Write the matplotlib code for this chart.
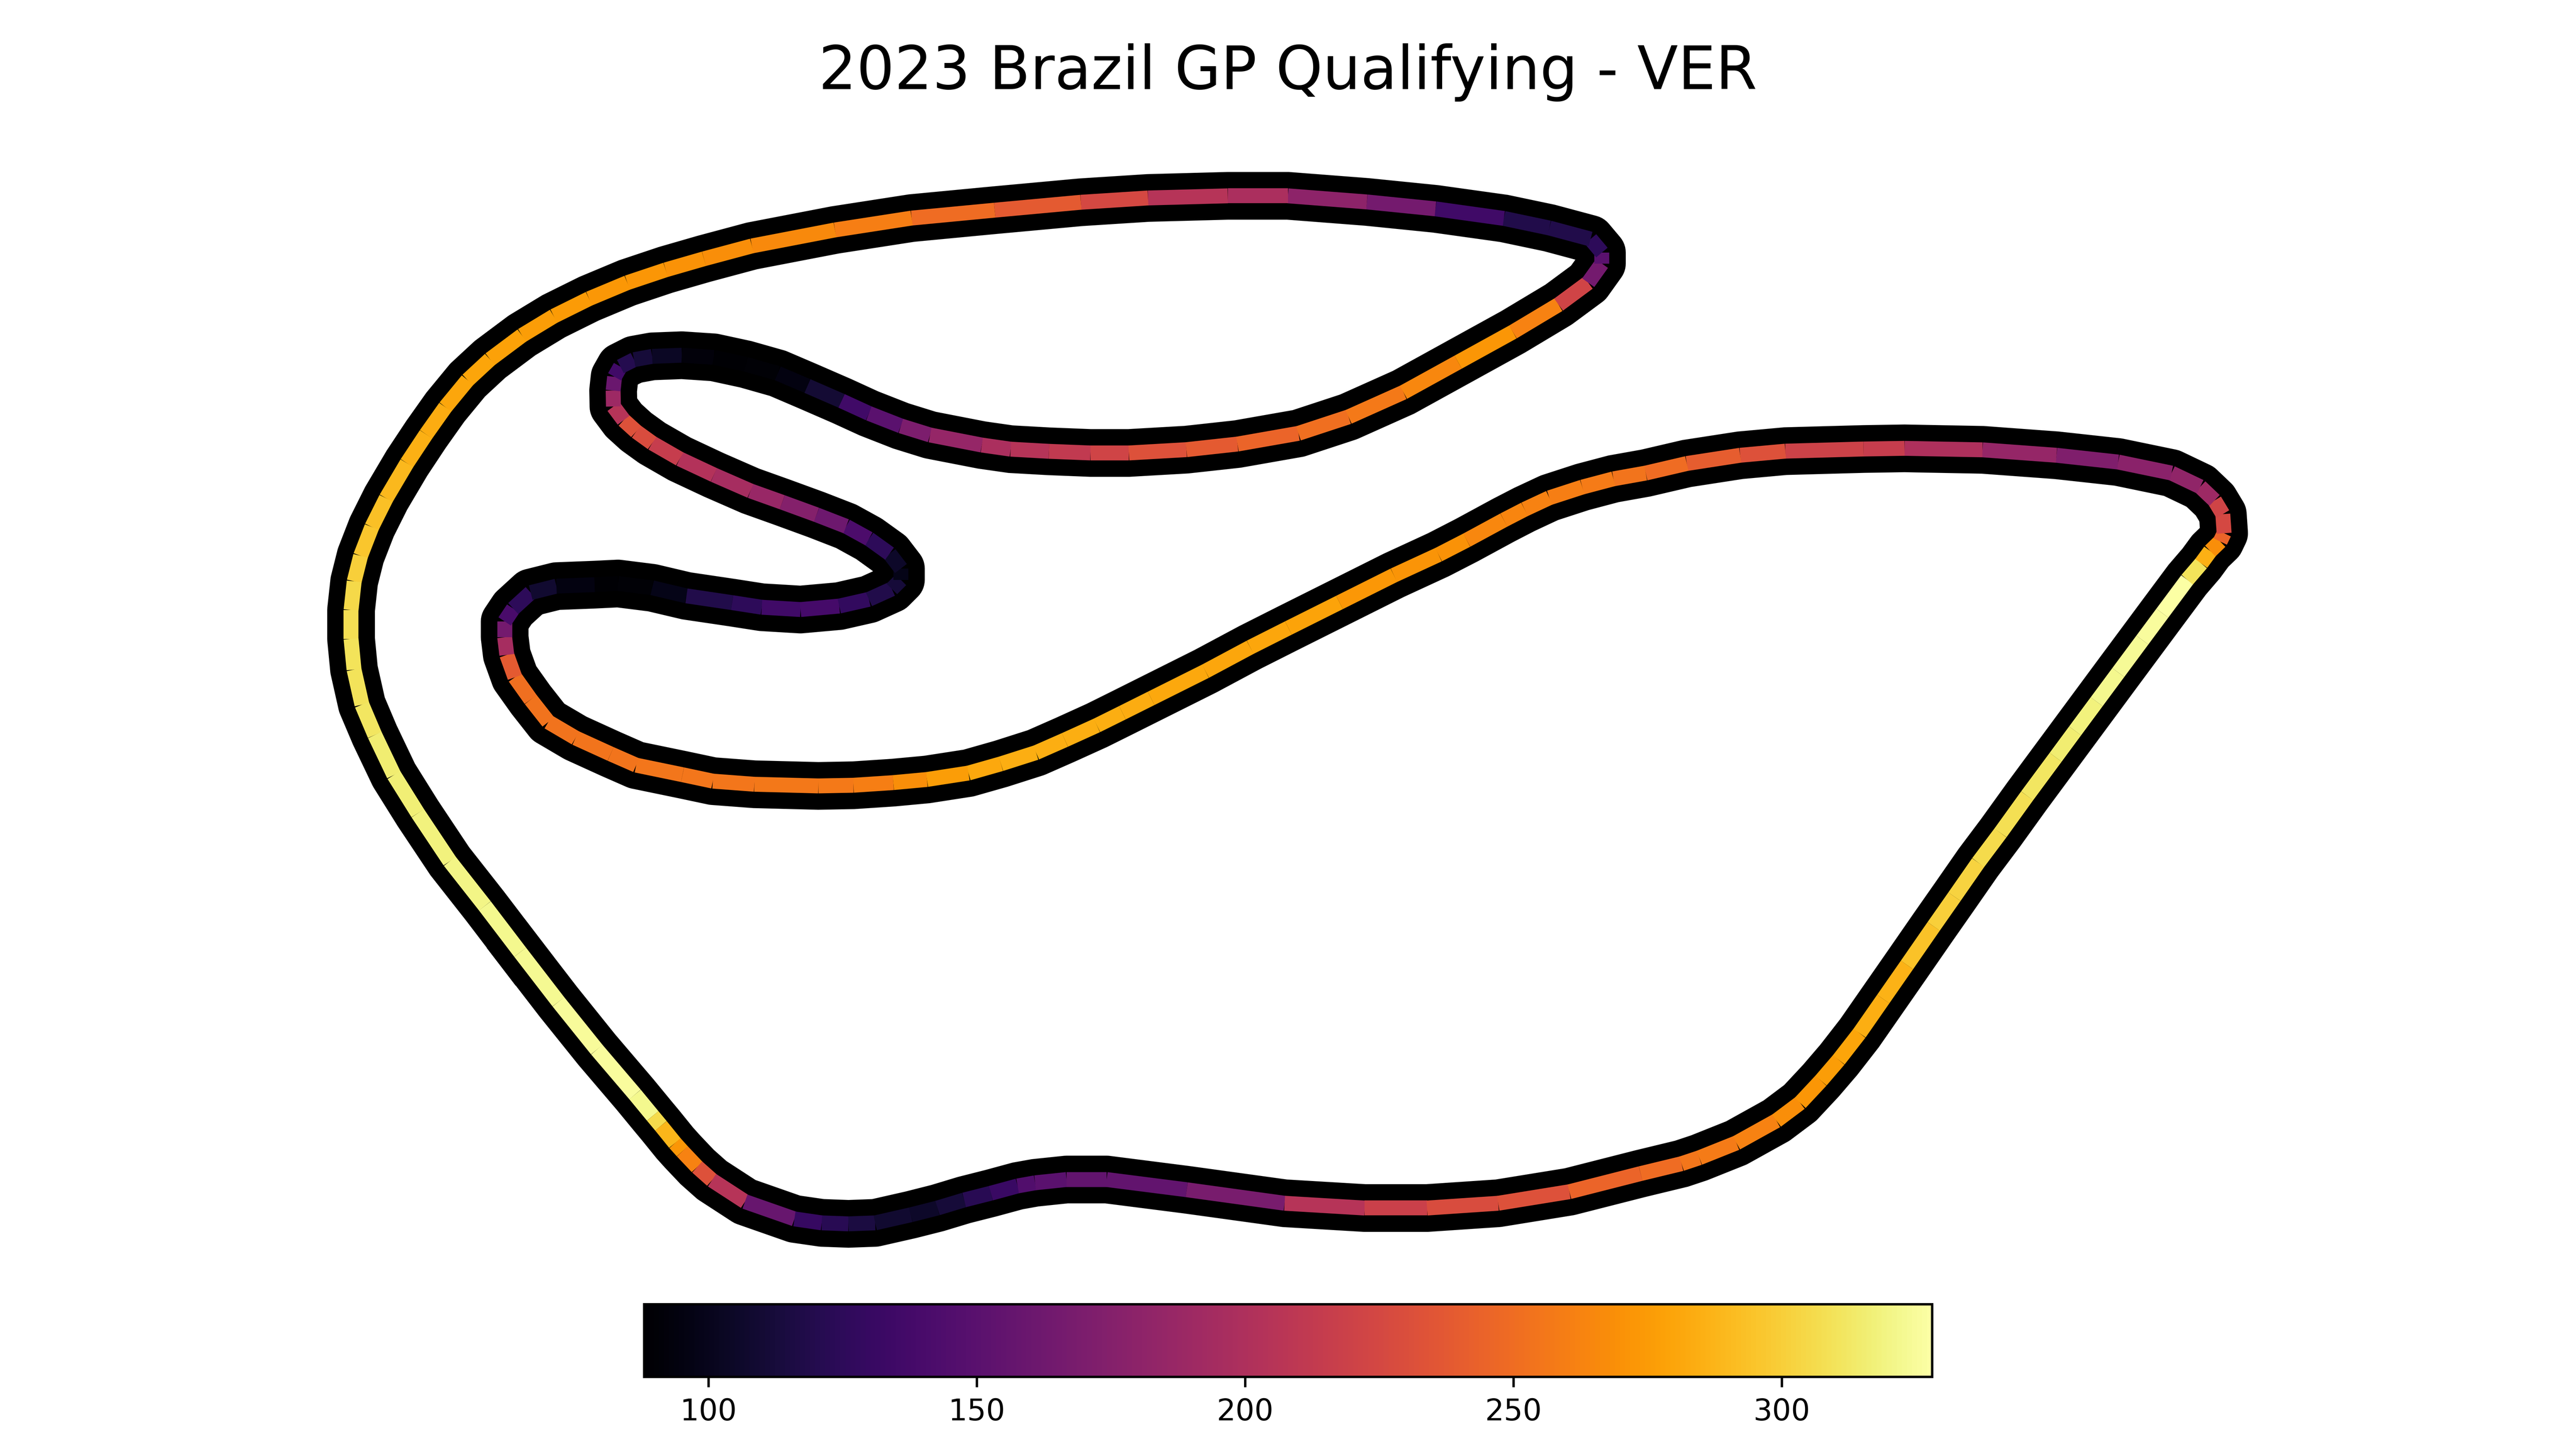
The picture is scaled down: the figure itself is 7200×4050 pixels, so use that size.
import matplotlib as mpl
import matplotlib.pyplot as plt
import numpy as np
from matplotlib.collections import LineCollection

title = "2023 Brazil GP Qualifying - VER"

# track position and speed, one lap in driving order
x = [315.6, 338.8, 362.1, 385.3, 396.0, 401.0, 409.5, 414.0, 423.0, 432.0,
     452.0, 482.0, 498.6, 514.8, 531.0, 552.6, 568.8, 585.0, 601.2, 617.4,
     628.0, 647.1, 671.4, 720.0, 779.4, 828.0, 865.8, 909.0, 952.2, 995.4,
     1020.2, 1031.0, 1053.5, 1077.8, 1092.2, 1104.8, 1115.6, 1128.2, 1142.6, 1157.0,
     1173.2, 1185.8, 1200.2, 1213.7, 1229.9, 1247.2, 1259.0, 1272.1, 1285.2, 1299.8,
     1311.9, 1327.0, 1335.5, 1341.0, 1347.0, 1349.4, 1348.6, 1343.6, 1334.9, 1317.5,
     1285.1, 1247.7, 1202.8, 1155.5, 1130.6, 1083.2, 1055.8, 1023.4, 998.5, 978.9,
     960.0, 940.0, 925.0, 912.4, 889.9, 872.8, 845.7, 812.7, 781.7, 758.5, 731.4, 698.4,
     681.0, 665.5, 646.1, 628.6, 607.3, 587.6, 562.4, 542.0, 517.8, 496.5,
     457.7, 432.5, 414.1, 386.0, 370.5, 349.2, 332.7, 322.0, 312.4, 307.5,
     306.2, 306.2, 311.4, 322.0, 337.6, 360.8, 375.0, 395.7, 416.5, 444.2,
     462.2, 485.7, 509.2, 527.2, 541.1, 546.6, 546.6, 539.7, 527.2, 513.4,
     495.4, 474.6, 455.3, 433.1, 412.4, 395.7, 386.0, 378.4, 372.2, 372.0,
     372.9, 376.4, 384.7, 395.7, 413.7, 433.1, 452.5, 471.9, 489.9, 510.6,
     527.2, 546.6, 564.3, 595.7, 613.2, 636.4, 661.6, 684.9, 719.8, 750.8,
     787.8, 818.2, 851.5, 884.7, 917.9, 945.6, 963.6, 971.9, 971.9, 965.0,
     940.0, 912.4, 870.9, 829.3, 781.4, 744.9, 696.5, 655.8, 603.5, 553.1,
     506.6, 456.2, 427.1, 403.9, 380.6, 357.4, 336.0, 316.7, 297.3, 283.7,
     270.2, 258.5, 246.9, 234.3, 225.6, 218.8, 214.9, 213.0, 213.0, 214.8,
     219.6, 227.4, 239.0, 253.5, 272.9, 294.2, 315.6]
y = [577.7, 607.8, 636.8, 664.0, 677.0, 683.0, 693.5, 698.5, 708.0, 716.0,
     729.0, 739.5, 741.9, 742.5, 741.9, 737.0, 732.9, 728.0, 723.9, 719.5,
     717.6, 715.6, 715.6, 721.8, 730.0, 732.9, 732.9, 730.0, 723.0, 712.0,
     706.0, 702.4, 693.4, 679.9, 669.1, 655.6, 643.0, 626.8, 606.1, 585.4,
     562.0, 544.0, 523.3, 505.3, 482.8, 459.4, 443.4, 425.7, 408.0, 388.3,
     372.0, 351.7, 341.8, 334.3, 328.5, 323.5, 311.9, 303.6, 295.3, 287.0,
     280.3, 276.2, 272.9, 272.0, 272.4, 273.7, 276.2, 281.2, 287.0, 290.5,
     295.5, 302.0, 309.0, 315.5, 327.7, 336.5, 349.0, 365.5, 381.0, 392.7, 407.2, 423.7,
     432.4, 440.1, 448.9, 456.6, 463.4, 469.0, 472.9, 474.8, 476.4, 476.8,
     475.8, 473.9, 470.0, 464.2, 457.4, 447.7, 438.0, 424.4, 410.9, 397.3,
     386.6, 377.0, 369.2, 359.5, 355.6, 354.7, 354.0, 356.6, 361.5, 365.6,
     368.4, 369.8, 367.7, 363.6, 357.3, 351.8, 344.9, 335.9, 326.9, 319.3,
     312.3, 304.7, 297.8, 288.1, 278.4, 268.8, 261.8, 254.9, 246.6, 236.9,
     228.6, 222.4, 218.2, 216.2, 215.5, 216.8, 221.0, 226.5, 234.2, 243.2,
     250.8, 258.4, 263.9, 270.0, 272.5, 273.8, 274.8, 274.8, 272.8, 269.4,
     262.9, 252.9, 238.0, 219.7, 201.4, 184.8, 171.5, 159.9, 153.2, 145.0,
     138.3, 132.5, 126.7, 122.5, 118.8, 118.8, 120.1, 122.7, 127.5, 132.3,
     139.5, 149.2, 157.0, 163.7, 171.5, 181.2, 191.8, 203.5, 218.0, 230.6,
     247.0, 263.5, 281.0, 302.3, 319.7, 337.2, 352.7, 370.1, 387.6, 406.2,
     427.5, 445.9, 470.2, 493.4, 522.5, 549.6, 577.7]
speed = [323, 325, 326, 322, 306, 288, 272, 262, 232, 205,
         158, 130, 122, 115, 108, 105, 112, 122, 132, 145,
         150, 155, 155, 168, 205, 218, 228, 232, 245, 250,
         255, 258, 262, 268, 272, 276, 280, 284, 286, 294,
         300, 302, 306, 308, 312, 315, 318, 322, 324, 326,
         328, 310, 285, 268, 245, 225, 222, 190, 182, 178,
         172, 185, 200, 215, 220, 232, 240, 250, 254, 258,
         260, 262, 264, 265, 270, 271, 273, 279, 281, 281, 282, 283,
         284, 284, 284, 284, 282, 276, 268, 260, 257, 256,
         255, 255, 255, 254, 254, 253, 253, 252, 238, 195,
         165, 140, 125, 108, 95, 88, 90, 98, 118, 125,
         135, 138, 128, 118, 112, 98, 105, 125, 142, 162,
         175, 187, 195, 203, 215, 228, 232, 205, 190, 160,
         135, 120, 112, 103, 92, 88, 90, 95, 110, 135,
         150, 170, 185, 198, 205, 212, 222, 232, 238, 245,
         252, 257, 265, 272, 262, 222, 165, 150, 125, 118,
         118, 135, 165, 180, 198, 205, 225, 238, 250, 260,
         266, 268, 270, 272, 273, 275, 276, 278, 280, 281,
         283, 285, 289, 293, 296, 300, 305, 308, 310, 310,
         312, 315, 316, 318, 320, 322, 323]

colorbar_ticks = [100, 150, 200, 250, 300]

fig, ax = plt.subplots(figsize=(12, 6.75))
fig.suptitle(title, size=20, y=0.97)
plt.subplots_adjust(left=0.1, right=0.9, top=0.9, bottom=0.12)
ax.axis('off')

# black background line, coloured speed on top of it
ax.plot(x, y, color='black', linestyle='-', linewidth=16, zorder=0)

points = np.array([x, y]).T.reshape(-1, 1, 2)
segments = np.concatenate([points[:-1], points[1:]], axis=1)

norm = mpl.colors.Normalize(min(speed), max(speed))
lc = LineCollection(segments, cmap='inferno', norm=norm, linestyle='-', linewidth=5)
lc.set_array(np.array(speed[:-1]))
ax.add_collection(lc)

ax.set_xlim(156.3, 1406.6)
ax.set_ylim(773.6, 87.9)

cbaxes = fig.add_axes([0.25, 0.05, 0.5, 0.05])
mpl.colorbar.ColorbarBase(cbaxes, norm=norm, cmap='inferno', orientation='horizontal',
                          ticks=colorbar_ticks)

fig.savefig('out.png', dpi=600)
